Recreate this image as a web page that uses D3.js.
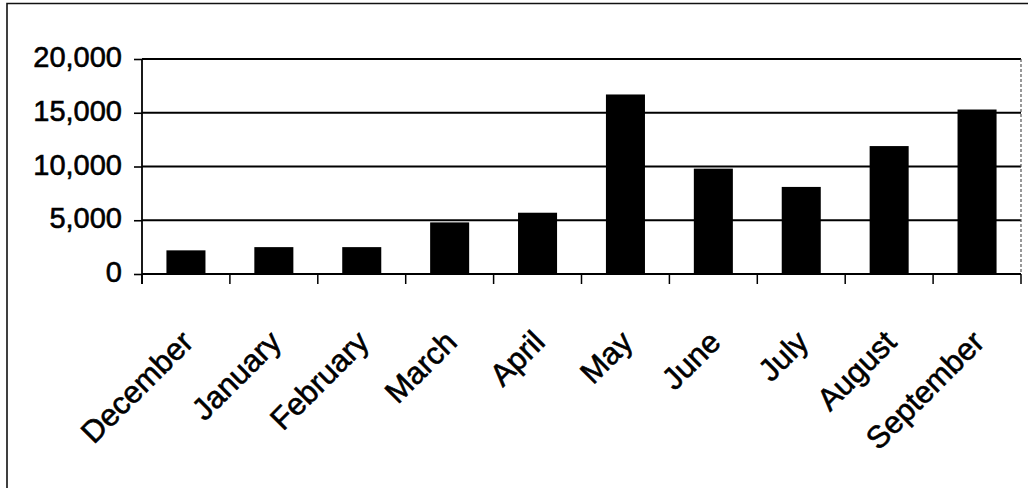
<!DOCTYPE html>
<html>
<head>
<meta charset="utf-8">
<script src="https://cdn.jsdelivr.net/npm/d3@7"></script>
<style>
  html, body { margin: 0; padding: 0; background: #fff; }
  svg { display: block; }
  text { font-family: "Liberation Sans", Arial, Helvetica, sans-serif; fill: #000; stroke: #000; stroke-width: 0.6px; }
</style>
</head>
<body>
<svg id="chart" width="1028" height="488"></svg>
<script>
// Monthly totals
const months = ["December", "January", "February", "March", "April", "May", "June", "July", "August", "September"];
const totals = [2200, 2500, 2500, 4800, 5700, 16700, 9800, 8100, 11900, 15300];
const yTicks = [0, 5000, 10000, 15000, 20000];

const svg = d3.select("#chart");
const W = 1028, H = 488;
const plot = { left: 142, right: 1021, top: 59, bottom: 274 };

// Outer chart frame (top and left edges)
svg.append("path")
  .attr("d", `M7,${H} L7,3.5 L${W},3.5`)
  .attr("fill", "none")
  .attr("stroke", "#111")
  .attr("stroke-width", 1.6);

const x = d3.scaleBand()
  .domain(months)
  .range([plot.left, plot.right])
  .paddingInner(0.556)
  .paddingOuter(0.278);

const y = d3.scaleLinear()
  .domain([0, 20000])
  .range([plot.bottom, plot.top]);

const fmt = d3.format(",");

// Horizontal gridlines
svg.append("g")
  .selectAll("line")
  .data(yTicks.filter(d => d > 0))
  .join("line")
  .attr("x1", plot.left)
  .attr("x2", plot.right)
  .attr("y1", d => y(d))
  .attr("y2", d => y(d))
  .attr("stroke", "#000")
  .attr("stroke-width", 1.8);

// Right edge of plot area
svg.append("line")
  .attr("x1", plot.right).attr("x2", plot.right)
  .attr("y1", plot.top).attr("y2", plot.bottom)
  .attr("stroke", "#555")
  .attr("stroke-width", 1.2)
  .attr("stroke-dasharray", "3,2");

// Bars
svg.append("g")
  .selectAll("rect")
  .data(months.map((m, i) => ({ m, v: totals[i] })))
  .join("rect")
  .attr("x", d => x(d.m))
  .attr("width", x.bandwidth())
  .attr("y", d => y(d.v))
  .attr("height", d => y(0) - y(d.v))
  .attr("fill", "#000");

// Y axis
const yAxis = d3.axisLeft(y)
  .tickValues(yTicks)
  .tickFormat(fmt)
  .tickSize(8)
  .tickPadding(12);

const gy = svg.append("g")
  .attr("transform", `translate(${plot.left},0)`)
  .call(yAxis);
gy.select(".domain").remove();
gy.selectAll(".tick line").attr("stroke", "#000").attr("stroke-width", 1.6);
gy.selectAll(".tick text")
  .attr("font-size", 29)
  .attr("dy", "0.26em")
  .style("font-family", "'Liberation Sans', Arial, sans-serif");

svg.append("line")
  .attr("x1", plot.left).attr("x2", plot.left)
  .attr("y1", plot.top).attr("y2", plot.bottom + 10)
  .attr("stroke", "#000")
  .attr("stroke-width", 1.8);

// X axis baseline
svg.append("line")
  .attr("x1", plot.left).attr("x2", plot.right)
  .attr("y1", plot.bottom).attr("y2", plot.bottom)
  .attr("stroke", "#000")
  .attr("stroke-width", 2);

// Category separator ticks at band boundaries
const step = x.step();
const boundaries = months.map(m => x(m) - x.paddingInner() * step / 2)
  .concat([x(months[months.length - 1]) + x.bandwidth() + x.paddingInner() * step / 2]);
svg.append("g")
  .selectAll("line")
  .data(boundaries)
  .join("line")
  .attr("x1", d => d).attr("x2", d => d)
  .attr("y1", plot.bottom).attr("y2", plot.bottom + 10)
  .attr("stroke", "#000")
  .attr("stroke-width", 1.5);

// Rotated month labels, text ending just below each category
svg.append("g")
  .selectAll("text")
  .data(months)
  .join("text")
  .attr("text-anchor", "end")
  .attr("font-size", 31)
  .attr("transform", d => `translate(${x(d) + x.bandwidth() / 2 + 9},${plot.bottom + 70}) rotate(-45)`)
  .text(d => d);
</script>
</body>
</html>
